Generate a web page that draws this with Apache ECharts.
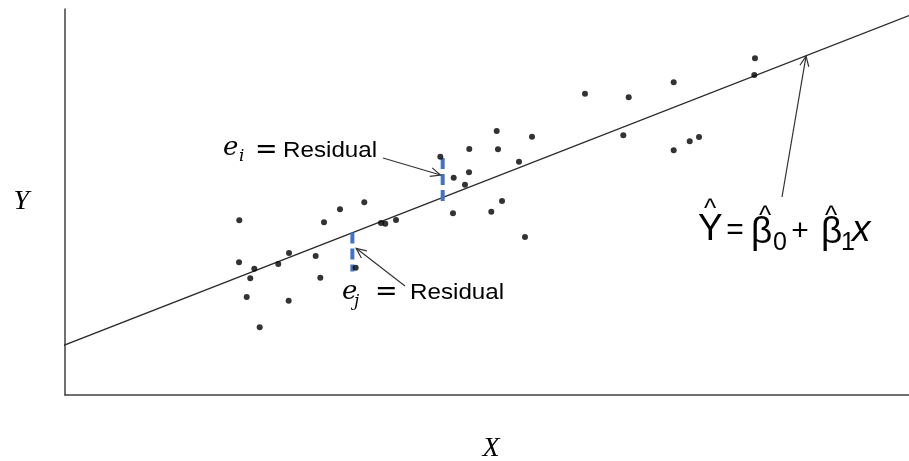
<!DOCTYPE html>
<html>
<head>
<meta charset="utf-8">
<script src="https://cdn.jsdelivr.net/npm/echarts@6/dist/echarts.min.js"></script>
<style>
  html, body { margin: 0; padding: 0; background: #fff; overflow: hidden; width: 100%; height: 100%; }
  #chart { position: absolute; left: 0; top: 0; width: 909px; height: 461px; }
</style>
</head>
<body>
<div id="chart"></div>
<script>
// Observed (x, y) pairs
const obsX = [20.65, 32.58, 35.46, 30.69, 37.44, 37.95, 39.22, 26.54, 20.62, 22.43,
              25.27, 29.70, 21.95, 30.25, 34.44, 21.53, 26.50, 23.07, 51.15, 55.33,
              47.90, 51.30, 44.47, 53.79, 46.05, 47.87, 47.39, 51.78, 45.97, 50.51,
              54.50, 81.75, 81.67, 61.61, 66.79, 72.12, 66.15, 72.12, 74.02, 75.12];
const obsY = [45.26, 48.11, 49.92, 44.74, 44.56, 44.38, 45.34, 36.79, 34.38, 32.72,
              33.94, 36.01, 30.23, 30.39, 32.98, 25.39, 24.43, 17.54, 68.39, 66.92,
              63.73, 63.65, 61.74, 60.44, 56.29, 57.69, 54.48, 50.26, 47.07, 47.49,
              40.93, 87.23, 82.90, 78.06, 77.12, 81.01, 67.28, 63.39, 65.73, 66.84];

// Fitted regression line end points
const fitX = [-0.7, 100];
const fitY = [12.4, 98.3];

// Residual segments (observation to fitted value)
const residIX = [44.75, 44.75];
const residIY = [61.4, 50.0];
const residJX = [34.05, 34.05];
const residJY = [42.1, 32.0];

// Arrow tips for the annotations (data coordinates)
const tipResidI = [44.5, 57.0];
const tipResidJ = [34.5, 38.0];
const tipFit = [87.8, 87.8];

const pair = (xs, ys) => xs.map((x, i) => [x, ys[i]]);

const chart = echarts.init(document.getElementById('chart'), null, { renderer: 'canvas', width: 909, height: 461 });

const axisCommon = {
  type: 'value',
  min: 0,
  max: 100,
  axisLine: { show: true, lineStyle: { color: '#404040', width: 1.5 } },
  axisTick: { show: false },
  axisLabel: { show: false },
  splitLine: { show: false },
  nameLocation: 'middle',
  nameTextStyle: { fontFamily: 'Liberation Serif', fontStyle: 'italic', fontSize: 28, color: '#000' }
};

chart.setOption({
  animation: false,
  backgroundColor: '#fff',
  grid: { left: 65, right: 0, top: 9, bottom: 66, containLabel: false, outerBoundsMode: 'none' },
  xAxis: Object.assign({}, axisCommon, { name: 'X', nameGap: 40,
    nameTextStyle: Object.assign({}, axisCommon.nameTextStyle, { padding: [0, 0, 0, 8] }) }),
  yAxis: Object.assign({}, axisCommon, { name: 'Y', nameGap: 36, nameRotate: 0 }),
  series: [
    {
      type: 'line',
      data: pair(fitX, fitY),
      clip: false,
      showSymbol: false,
      symbol: 'none',
      lineStyle: { color: '#2b2b2b', width: 1.4 },
      z: 2
    },
    {
      type: 'line',
      data: pair(residIX, residIY),
      symbol: 'none',
      lineStyle: { color: '#4472C4', width: 4, type: [11, 5] },
      z: 3
    },
    {
      type: 'line',
      data: pair(residJX, residJY),
      symbol: 'none',
      lineStyle: { color: '#4472C4', width: 4, type: [11, 5] },
      z: 3
    },
    {
      type: 'scatter',
      data: pair(obsX, obsY),
      symbolSize: 6,
      itemStyle: { color: '#000' },
      z: 4
    }
  ]
});

// Open arrow from a pixel tail to a data-space tip
function arrow(tail, tipData) {
  const tip = chart.convertToPixel({ gridIndex: 0 }, tipData);
  const a = Math.atan2(tip[1] - tail[1], tip[0] - tail[0]);
  const len = 11, spread = 0.42;
  const p1 = [tip[0] - len * Math.cos(a - spread), tip[1] - len * Math.sin(a - spread)];
  const p2 = [tip[0] - len * Math.cos(a + spread), tip[1] - len * Math.sin(a + spread)];
  const stroke = { stroke: '#333', lineWidth: 1.2, fill: null };
  return [
    { type: 'line', shape: { x1: tail[0], y1: tail[1], x2: tip[0], y2: tip[1] }, style: stroke, z: 10 },
    { type: 'polyline', shape: { points: [p1, tip, p2] }, style: stroke, z: 10 }
  ];
}

function txt(x, y, text, font, align, extra) {
  return Object.assign({
    type: 'text', x: x, y: y, z: 11,
    style: { text: text, font: font, fill: '#000', textAlign: align || 'left', textVerticalAlign: 'middle' }
  }, extra || {});
}

const mathFont = 'italic 26px "DejaVu Serif"';
const subFont = 'italic 17px "DejaVu Serif"';
const eqFont = '27px "DejaVu Serif"';
const wordFont = '22px "Liberation Sans"';
const bigFont = '37px "Liberation Sans"';
const opFont = '30px "Liberation Sans"';
const hatFont = '26px "Liberation Sans"';
const smallFont = '25px "Liberation Sans"';

chart.setOption({
  graphic: [].concat(
    arrow([383, 158], tipResidI),
    arrow([405, 286], tipResidJ),
    arrow([782, 197], tipFit),
    [
      // e_i = Residual
      txt(223, 148, 'e', mathFont),
      txt(239, 157, 'i', subFont),
      txt(255, 151, '=', eqFont),
      txt(283, 151, 'Residual', wordFont, 'left', { scaleX: 1.1 }),
      // e_j = Residual
      txt(342, 292, 'e', mathFont),
      txt(354, 302, 'j', subFont),
      txt(375, 293, '=', eqFont),
      txt(410, 293, 'Residual', wordFont, 'left', { scaleX: 1.1 }),
      // fitted equation
      txt(698, 230, 'Y', bigFont),
      txt(710, 210, '^', hatFont, 'center'),
      txt(735, 231, '=', opFont, 'center'),
      txt(751, 233, '\u03b2', bigFont),
      txt(765, 217, '^', hatFont, 'center'),
      txt(773, 243, '0', smallFont),
      txt(800, 232, '+', opFont, 'center'),
      txt(821, 233, '\u03b2', bigFont),
      txt(831, 217, '^', hatFont, 'center'),
      txt(841, 243, '1', smallFont),
      txt(852, 231, 'x', 'italic 37px "Liberation Sans"')
    ]
  )
});
</script>
</body>
</html>
